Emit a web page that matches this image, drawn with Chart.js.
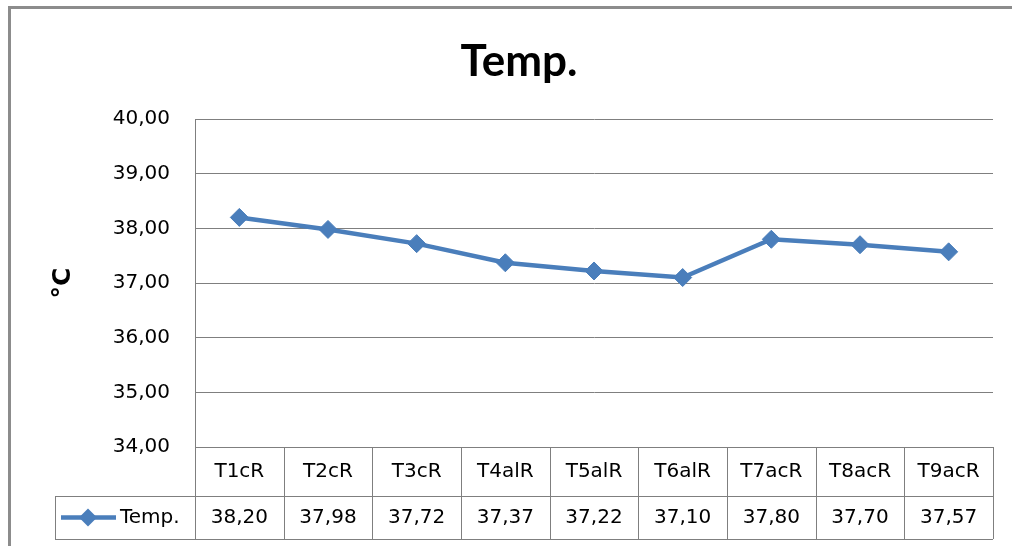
<!DOCTYPE html>
<html>
<head>
<meta charset="utf-8">
<script src="https://cdn.jsdelivr.net/npm/chart.js@4"></script>
<style>
  html, body { margin: 0; padding: 0; background: #fff; }
  #wrap { width: 1012px; height: 546px; position: relative; }
</style>
</head>
<body>
<div id="wrap"><canvas id="chart"></canvas></div>
<script>
// chart data
const categories = ['T1cR', 'T2cR', 'T3cR', 'T4alR', 'T5alR', 'T6alR', 'T7acR', 'T8acR', 'T9acR'];
const temps = [38.20, 37.98, 37.72, 37.37, 37.22, 37.10, 37.80, 37.70, 37.57];
const seriesName = 'Temp.';
const chartTitle = 'Temp.';
const yTitle = '°C';
const yMin = 34;
const yMax = 40;
const yStep = 1;

const lineColor = '#4a7ebb';
const gridColor = '#7f7f7f';
const labelFont = '20px "DejaVu Sans"';

// Excel style number: 38,20
function fmt(v) {
    return v.toFixed(2).replace('.', ',');
}

function crisp(v) {
    return Math.round(v) + 0.5;
}

// frame, title, axis title and the data table below the plot
const excelFrame = {
    id: 'excelFrame',
    beforeDraw: function (chart) {
        const ctx = chart.ctx;
        const area = chart.chartArea;
        ctx.save();
        ctx.fillStyle = '#fff';
        ctx.fillRect(0, 0, chart.width, chart.height);

        // outer chart border (only left and top are on screen)
        ctx.strokeStyle = '#8c8c8c';
        ctx.lineWidth = 3;
        ctx.beginPath();
        ctx.moveTo(9.5, chart.height + 5);
        ctx.lineTo(9.5, 7.5);
        ctx.lineTo(chart.width + 5, 7.5);
        ctx.stroke();

        // title
        ctx.fillStyle = '#000';
        ctx.font = 'bold 44px Lato';
        ctx.textAlign = 'center';
        ctx.textBaseline = 'alphabetic';
        ctx.fillText(chartTitle, 519, 76);

        // y axis title
        ctx.font = 'bold 25px "DejaVu Sans"';
        ctx.translate(63, (area.top + area.bottom) / 2);
        ctx.rotate(-Math.PI / 2);
        ctx.textBaseline = 'middle';
        ctx.fillText(yTitle, 0, 0);
        ctx.restore();
    },
    afterDraw: function (chart) {
        const ctx = chart.ctx;
        const area = chart.chartArea;
        const xs = chart.scales.x;
        const top = area.bottom;
        const mid = top + 49;
        const bot = top + 92;
        const keyLeft = 55;

        const bounds = [area.left];
        for (let i = 0; i < categories.length - 1; i++) {
            bounds.push((xs.getPixelForValue(i) + xs.getPixelForValue(i + 1)) / 2);
        }
        bounds.push(area.right);

        ctx.save();
        ctx.strokeStyle = gridColor;
        ctx.lineWidth = 1;
        ctx.beginPath();
        ctx.moveTo(area.left, crisp(top));
        ctx.lineTo(area.right, crisp(top));
        ctx.moveTo(keyLeft, crisp(mid));
        ctx.lineTo(area.right, crisp(mid));
        ctx.moveTo(keyLeft, crisp(bot));
        ctx.lineTo(area.right, crisp(bot));
        bounds.forEach(b => {
            ctx.moveTo(crisp(b), top);
            ctx.lineTo(crisp(b), bot);
        });
        ctx.moveTo(crisp(keyLeft), mid);
        ctx.lineTo(crisp(keyLeft), bot);
        ctx.stroke();

        // category labels and values
        ctx.fillStyle = '#000';
        ctx.font = labelFont;
        ctx.textAlign = 'center';
        ctx.textBaseline = 'middle';
        categories.forEach((c, i) => {
            const cx = xs.getPixelForValue(i);
            ctx.fillText(c, cx, (top + mid) / 2);
            ctx.fillText(fmt(temps[i]), cx, (mid + bot) / 2);
        });

        // legend key
        const ky = (mid + bot) / 2;
        ctx.strokeStyle = lineColor;
        ctx.lineWidth = 4.5;
        ctx.beginPath();
        ctx.moveTo(61, ky);
        ctx.lineTo(116, ky);
        ctx.stroke();
        ctx.fillStyle = lineColor;
        ctx.beginPath();
        ctx.moveTo(88, ky - 9);
        ctx.lineTo(97, ky);
        ctx.lineTo(88, ky + 9);
        ctx.lineTo(79, ky);
        ctx.closePath();
        ctx.fill();

        ctx.fillStyle = '#000';
        ctx.textAlign = 'left';
        ctx.fillText(seriesName, 120, ky);
        ctx.restore();
    }
};

const ctx = document.getElementById('chart').getContext('2d');
new Chart(ctx, {
    type: 'line',
    data: {
        labels: categories,
        datasets: [{
            label: seriesName,
            data: temps,
            borderColor: lineColor,
            backgroundColor: lineColor,
            borderWidth: 4.5,
            tension: 0,
            pointStyle: 'rectRot',
            pointRadius: 9,
            pointBorderWidth: 1,
            pointBackgroundColor: lineColor,
            pointBorderColor: lineColor
        }]
    },
    options: {
        responsive: true,
        maintainAspectRatio: false,
        animation: false,
        layout: {
            padding: { left: 0, top: 119, right: 19, bottom: 99 }
        },
        plugins: {
            legend: { display: false },
            title: { display: false },
            tooltip: { enabled: false }
        },
        scales: {
            x: {
                type: 'category',
                display: false,
                offset: true
            },
            y: {
                min: yMin,
                max: yMax,
                afterFit: function (scale) {
                    scale.width = 195;
                },
                ticks: {
                    stepSize: yStep,
                    padding: 25,
                    color: '#000',
                    font: { family: 'DejaVu Sans', size: 20 },
                    callback: function (value) {
                        return fmt(value);
                    }
                },
                grid: {
                    color: gridColor,
                    lineWidth: 1,
                    drawTicks: false
                },
                border: {
                    display: true,
                    color: gridColor,
                    width: 1
                }
            }
        }
    },
    plugins: [excelFrame]
});
</script>
</body>
</html>
